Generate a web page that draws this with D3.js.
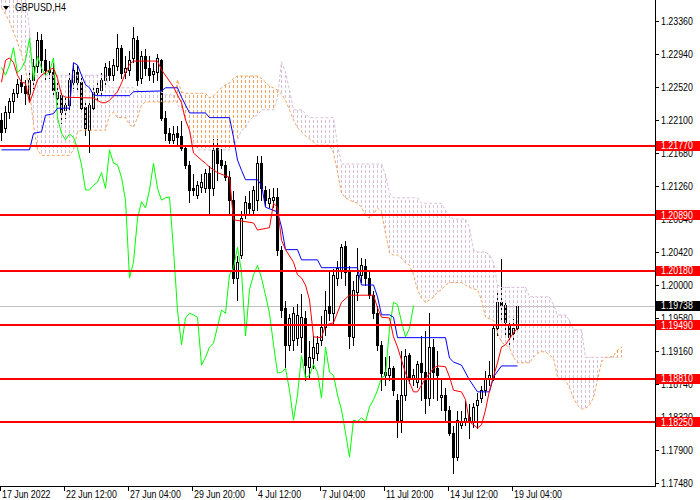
<!DOCTYPE html>
<html>
<head>
<meta charset="utf-8">
<script src="https://cdn.jsdelivr.net/npm/d3@7"></script>
<style>
  body { margin: 0; background: #fff; }
  text { font-family: "Liberation Sans", Arial, sans-serif; font-size: 10px; }
</style>
</head>
<body>
<script>
// GBPUSD H4 with Ichimoku
var title = 'GBPUSD,H4';
var dateLabels = ['17 Jun 2022', '22 Jun 12:00', '27 Jun 04:00', '29 Jun 20:00', '4 Jul 12:00',
                  '7 Jul 04:00', '11 Jul 20:00', '14 Jul 12:00', '19 Jul 04:00'];
var dateBars = [0, 16, 32, 48, 64, 80, 96, 112, 128];
var priceTicks = [1.2336, 1.2294, 1.2252, 1.2210, 1.2168, 1.2126, 1.2084, 1.2042, 1.2000,
                  1.1958, 1.1916, 1.1874, 1.1832, 1.1790, 1.1748];
var levels = [1.2177, 1.2089, 1.2018, 1.1949, 1.1881, 1.1825];
var lastPrice = 1.19738;

var opens = [
  1.2210,1.2200,1.2220,1.2234,1.2244,1.2258,1.2253,1.2243,1.2261,1.2279,
  1.2312,1.2286,1.2274,1.2271,1.2238,1.2242,1.2223,1.2229,1.2258,1.2271,
  1.2258,1.2227,1.2197,1.2225,1.2246,1.2248,1.2261,1.2276,1.2267,1.2279,
  1.2302,1.2271,1.2274,1.2289,1.2312,1.2263,1.2291,1.2276,1.2269,1.2271,
  1.2286,1.2213,1.2193,1.2185,1.2193,1.2190,1.2174,1.2153,1.2123,1.2115,
  1.2125,1.2123,1.2143,1.2123,1.2174,1.2159,1.2153,1.2137,1.2108,1.2009,
  1.2038,1.2089,1.2104,1.2095,1.2108,1.2155,1.2121,1.2104,1.2108,1.2112,
  1.2045,1.1971,1.1924,1.1930,1.1933,1.1934,1.1958,1.1896,1.1907,1.1913,
  1.1930,1.1947,1.1973,1.1964,1.2009,1.2019,1.2050,1.2017,1.1934,1.1991,
  1.2013,1.2024,1.2009,1.1987,1.1964,1.1924,1.1885,1.1885,1.1894,1.1854,
  1.1828,1.1860,1.1911,1.1882,1.1877,1.1901,1.1889,1.1856,1.1921,1.1894,
  1.1857,1.1860,1.1841,1.1812,1.1781,1.1822,1.1826,1.1832,1.1826,1.1847,
  1.1856,1.1866,1.1882,1.1882,1.1945,1.1978,1.1975,1.1949,1.1939,1.1945
];
var highs = [
  1.2220,1.2229,1.2239,1.2251,1.2263,1.2269,1.2262,1.2274,1.2289,1.2323,
  1.2321,1.2302,1.2286,1.2284,1.2261,1.2248,1.2242,1.2271,1.2284,1.2280,
  1.2266,1.2235,1.2235,1.2253,1.2258,1.2271,1.2284,1.2286,1.2289,1.2321,
  1.2307,1.2293,1.2299,1.2330,1.2318,1.2299,1.2302,1.2293,1.2284,1.2295,
  1.2289,1.2223,1.2201,1.2204,1.2204,1.2210,1.2178,1.2159,1.2143,1.2134,
  1.2143,1.2149,1.2153,1.2187,1.2187,1.2174,1.2159,1.2146,1.2121,1.2038,
  1.2095,1.2115,1.2121,1.2127,1.2165,1.2165,1.2127,1.2123,1.2125,1.2125,
  1.2051,1.1981,1.1964,1.1973,1.1977,1.1990,1.1968,1.1930,1.1936,1.1936,
  1.1962,1.1994,1.2019,1.2022,1.2032,1.2053,1.2057,1.2025,1.2006,1.2048,
  1.2036,1.2034,1.2019,1.1994,1.1975,1.1930,1.1910,1.1911,1.1898,1.1863,
  1.1917,1.1920,1.1915,1.1894,1.1905,1.1936,1.1943,1.1966,1.1933,1.1917,
  1.1883,1.1870,1.1847,1.1822,1.1841,1.1841,1.1854,1.1850,1.1851,1.1864,
  1.1873,1.1892,1.1905,1.1952,1.1991,1.2034,1.1981,1.1953,1.1958,1.1975
];
var lows = [
  1.2185,1.2195,1.2213,1.2220,1.2239,1.2246,1.2230,1.2235,1.2251,1.2271,
  1.2271,1.2261,1.2263,1.2242,1.2229,1.2206,1.2213,1.2223,1.2251,1.2248,
  1.2220,1.2191,1.2169,1.2220,1.2235,1.2242,1.2255,1.2261,1.2261,1.2274,
  1.2263,1.2263,1.2267,1.2284,1.2255,1.2257,1.2267,1.2261,1.2258,1.2261,
  1.2210,1.2185,1.2181,1.2181,1.2178,1.2172,1.2149,1.2106,1.2115,1.2111,
  1.2118,1.2118,1.2092,1.2115,1.2134,1.2149,1.2134,1.2092,1.2003,1.1981,
  1.2034,1.2085,1.2089,1.2089,1.2095,1.2108,1.2102,1.2099,1.2099,1.2038,
  1.1959,1.1896,1.1917,1.1917,1.1924,1.1915,1.1879,1.1882,1.1894,1.1905,
  1.1924,1.1936,1.1955,1.1949,1.2000,1.2009,1.2000,1.1920,1.1924,1.1981,
  1.2004,1.2000,1.1983,1.1958,1.1917,1.1866,1.1873,1.1879,1.1860,1.1807,
  1.1813,1.1854,1.1875,1.1873,1.1870,1.1854,1.1837,1.1847,1.1856,1.1854,
  1.1841,1.1826,1.1809,1.1761,1.1777,1.1818,1.1822,1.1805,1.1819,1.1818,
  1.1851,1.1860,1.1873,1.1879,1.1936,1.1955,1.1936,1.1921,1.1930,1.1943
];
var closes = [
  1.2195,1.2220,1.2234,1.2244,1.2256,1.2253,1.2244,1.2261,1.2279,1.2312,
  1.2286,1.2274,1.2271,1.2248,1.2246,1.2220,1.2229,1.2261,1.2274,1.2258,
  1.2225,1.2200,1.2229,1.2246,1.2251,1.2261,1.2277,1.2267,1.2280,1.2302,
  1.2270,1.2276,1.2286,1.2314,1.2261,1.2291,1.2276,1.2267,1.2272,1.2289,
  1.2213,1.2193,1.2185,1.2192,1.2188,1.2174,1.2153,1.2121,1.2121,1.2127,
  1.2131,1.2143,1.2123,1.2172,1.2155,1.2153,1.2137,1.2108,1.2009,1.2029,
  1.2085,1.2106,1.2098,1.2121,1.2155,1.2123,1.2108,1.2111,1.2112,1.2045,
  1.1968,1.1924,1.1958,1.1964,1.1962,1.1959,1.1898,1.1908,1.1921,1.1926,
  1.1947,1.1968,1.1964,1.2013,1.2022,1.2048,1.2017,1.1935,1.1994,1.2013,
  1.2025,1.2009,1.1987,1.1964,1.1924,1.1888,1.1889,1.1894,1.1866,1.1828,
  1.1860,1.1910,1.1882,1.1885,1.1899,1.1889,1.1856,1.1921,1.1889,1.1885,
  1.1860,1.1841,1.1812,1.1781,1.1828,1.1826,1.1831,1.1826,1.1845,1.1854,
  1.1866,1.1882,1.1885,1.1945,1.1978,1.1975,1.1953,1.1934,1.1945,1.19738
];

// senkou spans, already shifted 26 bars forward (index = bar on screen)
var spanA = [
  1.2353,1.2345,1.2335,1.2322,1.2309,1.2293,1.2274,1.2248,1.2204,1.2172,
  1.2165,1.2165,1.2165,1.2165,1.2165,1.2165,1.2165,1.2165,1.2172,1.2195,
  1.2197,1.2197,1.2197,1.2197,1.2197,1.2197,1.2197,1.2216,1.2220,1.2213,
  1.2213,1.2213,1.2204,1.2201,1.2213,1.2229,1.2233,1.2233,1.2233,1.2233,
  1.2233,1.2233,1.2233,1.2233,1.2261,1.2246,1.2244,1.2244,1.2244,1.2244,
  1.2244,1.2244,1.2238,1.2241,1.2246,1.2251,1.2255,1.2257,1.2263,1.2266,
  1.2266,1.2266,1.2266,1.2266,1.2266,1.2263,1.2258,1.2253,1.2251,1.2248,
  1.2243,1.2235,1.2223,1.2210,1.2200,1.2195,1.2190,1.2186,1.2182,1.2178,
  1.2178,1.2178,1.2178,1.2168,1.2144,1.2117,1.2111,1.2108,1.2106,1.2104,
  1.2099,1.2089,1.2085,1.2090,1.2098,1.2093,1.2066,1.2041,1.2038,1.2038,
  1.2034,1.2028,1.2025,1.2013,1.1994,1.1983,1.1978,1.1981,1.1985,1.1991,
  1.1994,1.2000,1.2003,1.2003,1.2003,1.2003,1.2000,1.1997,1.1995,1.1994,
  1.1981,1.1959,1.1957,1.1955,1.1939,1.1927,1.1924,1.1920,1.1908,1.1901,
  1.1901,1.1901,1.1901,1.1908,1.1913,1.1915,1.1915,1.1911,1.1907,1.1883,
  1.1880,1.1879,1.1869,1.1856,1.1847,1.1842,1.1843,1.1847,1.1857,1.1879,
  1.1902,1.1908,1.1908,1.1910,1.1917,1.1921
];
var spanB = [
  1.2367,1.2367,1.2367,1.2367,1.2367,1.2367,1.2367,1.2325,1.2267,1.2267,
  1.2267,1.2267,1.2267,1.2267,1.2267,1.2267,1.2267,1.2267,1.2267,1.2267,
  1.2267,1.2267,1.2267,1.2267,1.2267,1.2267,1.2267,1.2251,1.2251,1.2251,
  1.2251,1.2251,1.2251,1.2251,1.2248,1.2246,1.2246,1.2246,1.2246,1.2246,
  1.2246,1.2242,1.2242,1.2242,1.2229,1.2223,1.2213,1.2197,1.2181,1.2172,
  1.2172,1.2172,1.2172,1.2172,1.2172,1.2172,1.2172,1.2172,1.2178,1.2185,
  1.2197,1.2200,1.2210,1.2214,1.2216,1.2223,1.2223,1.2223,1.2223,1.2239,
  1.2284,1.2271,1.2248,1.2223,1.2223,1.2223,1.2218,1.2213,1.2213,1.2213,
  1.2213,1.2213,1.2213,1.2213,1.2178,1.2154,1.2154,1.2154,1.2154,1.2154,
  1.2154,1.2154,1.2154,1.2154,1.2154,1.2154,1.2140,1.2117,1.2111,1.2111,
  1.2111,1.2111,1.2111,1.2111,1.2111,1.2104,1.2104,1.2104,1.2104,1.2104,
  1.2104,1.2095,1.2087,1.2084,1.2084,1.2084,1.2084,1.2073,1.2045,1.2042,
  1.2042,1.2042,1.2038,1.2029,1.2000,1.1997,1.1997,1.1997,1.1997,1.1997,
  1.1997,1.1997,1.1985,1.1985,1.1985,1.1985,1.1985,1.1985,1.1975,1.1962,
  1.1962,1.1962,1.1955,1.1943,1.1943,1.1943,1.1908,1.1908,1.1908,1.1908,
  1.1908,1.1908,1.1908,1.1908,1.1908,1.1908
];

// tenkan / kijun as [bar, price] turning points
var tenkan = [
  [0,1.2258],[1,1.2286],[2,1.2289],[3,1.2283],[4,1.2267],[5,1.2258],[6,1.2257],[7,1.2232],
  [8,1.2246],[9,1.2261],[10,1.2267],[12,1.2274],[13,1.2276],[14,1.2263],[15,1.2242],[16,1.2239],
  [23,1.2238],[25,1.2232],[26,1.2232],[27,1.2235],[29,1.2246],[30,1.2257],[31,1.2270],[32,1.2281],
  [33,1.2285],[39,1.2285],[40,1.2274],[43,1.2252],[45,1.2232],[46,1.2210],[47,1.2197],[48,1.2168],
  [50,1.2159],[51,1.2155],[52,1.2150],[54,1.2143],[57,1.2137],[58,1.2083],[63,1.2079],[64,1.2070],
  [67,1.2073],[68,1.2104],[69,1.2099],[70,1.2057],[71,1.2045],[73,1.2029],[74,1.2013],[75,1.2009],
  [76,1.2000],[77,1.1981],[78,1.1934],[80,1.1933],[81,1.1949],[83,1.1952],[85,1.1978],[87,1.1987],
  [93,1.1987],[94,1.1971],[95,1.1959],[97,1.1958],[98,1.1934],[99,1.1921],[101,1.1888],[103,1.1864],
  [104,1.1864],[106,1.1881],[108,1.1894],[109,1.1897],[111,1.1896],[112,1.1883],[113,1.1866],[115,1.1864],
  [116,1.1854],[117,1.1826],[119,1.1818],[120,1.1822],[121,1.1841],[122,1.1866],[124,1.1901],[125,1.1921],
  [126,1.1924],[128,1.1939],[129,1.1945]
];
var kijun = [
  [0,1.2172],[7,1.2172],[8,1.2193],[10,1.2195],[11,1.2216],[13,1.2218],[14,1.2225],[17,1.2225],
  [18,1.2283],[19,1.2280],[20,1.2267],[21,1.2255],[22,1.2251],[23,1.2242],[24,1.2241],[32,1.2241],
  [33,1.2246],[40,1.2247],[41,1.2251],[44,1.2251],[45,1.2239],[47,1.2219],[51,1.2219],[52,1.2213],
  [57,1.2213],[58,1.2188],[59,1.2159],[60,1.2146],[61,1.2134],[64,1.2134],[65,1.2127],[66,1.2099],
  [69,1.2093],[70,1.2074],[71,1.2045],[74,1.2045],[75,1.2032],[79,1.2032],[80,1.2022],[89,1.2022],
  [90,1.2000],[93,1.2000],[94,1.1985],[95,1.1962],[97,1.1962],[98,1.1959],[99,1.1933],[111,1.1933],
  [112,1.1907],[113,1.1902],[115,1.1898],[117,1.1879],[119,1.1864],[122,1.1864],[123,1.1883],[125,1.1897],
  [129,1.1897]
];
var chikouShift = 26;

var width = 700, height = 500;
var plotRight = 655, plotBottom = 486;
var squeeze = 0.88;   // narrow the glyphs to the terminal's small font

var svg = d3.select('body')
            .append('svg')
            .attr('width', width)
            .attr('height', height)
            .style('background-color', '#fff');

var x = d3.scaleLinear().domain([0, 155]).range([1.5, 621.5]);
var y = d3.scaleLinear().domain([1.1748, 1.2336]).range([483, 21]);
var fmt = d3.format('.5f');
function py(v) { return Math.round(y(v)) + 0.5; }
function narrow(sel) {
  sel.each(function() {
    var l = this.getComputedTextLength();
    d3.select(this).attr('textLength', l * squeeze).attr('lengthAdjust', 'spacingAndGlyphs');
  });
}

var sandy = '#f4a460', thistle = '#d8bfd8';
svg.append('defs').append('clipPath').attr('id', 'plot')
   .append('rect').attr('x', 0).attr('y', 0).attr('width', plotRight).attr('height', plotBottom);

var plot = svg.append('g').attr('clip-path', 'url(#plot)');

// bid line
plot.append('line')
    .attr('x1', 0).attr('x2', plotRight)
    .attr('y1', py(lastPrice)).attr('y2', py(lastPrice))
    .attr('stroke', '#c0c0c0');

// candles
var bars = d3.range(closes.length);
var candle = plot.append('g').attr('shape-rendering', 'crispEdges');
candle.selectAll('line.wick')
      .data(bars)
      .enter()
        .append('line')
        .attr('x1', function(i) { return x(i); })
        .attr('x2', function(i) { return x(i); })
        .attr('y1', function(i) { return py(highs[i]); })
        .attr('y2', function(i) { return py(lows[i]) + 0.5; })
        .attr('stroke', '#000');
candle.selectAll('rect')
      .data(bars)
      .enter()
        .append('rect')
        .attr('x', function(i) { return x(i) - 1; })
        .attr('y', function(i) { return py(Math.max(opens[i], closes[i])); })
        .attr('width', 2)
        .attr('height', function(i) {
          return Math.max(py(Math.min(opens[i], closes[i])) - py(Math.max(opens[i], closes[i])), 0.01);
        })
        .attr('fill', function(i) { return closes[i] >= opens[i] ? '#fff' : '#000'; })
        .attr('stroke', '#000');

// kumo hatching: dotted column per bar, 3px on / 2px off, aligned on a global grid
var dashes = [];
d3.range(spanA.length).forEach(function(i) {
  var top = Math.round(y(Math.max(spanA[i], spanB[i])));
  var bot = Math.round(y(Math.min(spanA[i], spanB[i])));
  var col = spanA[i] > spanB[i] ? sandy : thistle;
  for (var k = top - (((top % 5) + 5) % 5); k < bot; k += 5) {
    var s = Math.max(k, top), e = Math.min(k + 3, bot);
    if (e > s) dashes.push({i: i, y: s, h: e - s, c: col});
  }
});
plot.append('g').attr('shape-rendering', 'crispEdges')
    .selectAll('rect')
    .data(dashes)
    .enter()
      .append('rect')
      .attr('x', function(d) { return x(d.i) - 0.5; })
      .attr('y', function(d) { return d.y; })
      .attr('width', 1)
      .attr('height', function(d) { return d.h; })
      .attr('fill', function(d) { return d.c; });

var spanLine = d3.line().x(function(d, i) { return x(i); }).y(function(d) { return y(d); });
plot.append('path').attr('d', spanLine(spanB)).attr('fill', 'none')
    .attr('stroke', thistle).attr('stroke-dasharray', '3,2');
plot.append('path').attr('d', spanLine(spanA)).attr('fill', 'none')
    .attr('stroke', sandy).attr('stroke-dasharray', '3,2');

var ptLine = d3.line().x(function(d) { return x(d[0]); }).y(function(d) { return y(d[1]); });
var chikou = closes.slice(chikouShift).map(function(c, k) { return [k, c]; });
plot.append('path').attr('d', ptLine(chikou)).attr('fill', 'none').attr('stroke', '#00ff00');
plot.append('path').attr('d', ptLine(kijun)).attr('fill', 'none').attr('stroke', '#0000ff');
plot.append('path').attr('d', ptLine(tenkan)).attr('fill', 'none').attr('stroke', '#ff0000');

// support / resistance levels
plot.selectAll('line.level')
    .data(levels)
    .enter()
      .append('line')
      .attr('x1', 0).attr('x2', plotRight)
      .attr('y1', function(d) { return Math.round(y(d)); })
      .attr('y2', function(d) { return Math.round(y(d)); })
      .attr('stroke', '#ff0000')
      .attr('stroke-width', 2);

// frame
svg.append('line').attr('x1', plotRight + 0.5).attr('x2', plotRight + 0.5)
   .attr('y1', 0).attr('y2', plotBottom + 1).attr('stroke', '#000');
svg.append('line').attr('x1', 0).attr('x2', plotRight + 1)
   .attr('y1', plotBottom + 0.5).attr('y2', plotBottom + 0.5).attr('stroke', '#000');

// price axis
var pAxis = svg.append('g');
pAxis.selectAll('line')
     .data(priceTicks)
     .enter()
       .append('line')
       .attr('x1', plotRight).attr('x2', plotRight + 4)
       .attr('y1', py).attr('y2', py)
       .attr('stroke', '#000');
pAxis.selectAll('text')
     .data(priceTicks)
     .enter()
       .append('text')
       .attr('x', 661)
       .attr('y', function(d) { return y(d) + 3.5; })
       .text(fmt)
       .call(narrow);

// time axis
var tAxis = svg.append('g');
tAxis.selectAll('line')
     .data(dateBars)
     .enter()
       .append('line')
       .attr('x1', function(b) { return x(b) - 1; })
       .attr('x2', function(b) { return x(b) - 1; })
       .attr('y1', plotBottom).attr('y2', plotBottom + 5)
       .attr('stroke', '#000');
tAxis.selectAll('text')
     .data(dateBars)
     .enter()
       .append('text')
       .attr('x', function(b) { return x(b) + 0.5; })
       .attr('y', 498)
       .text(function(b, k) { return dateLabels[k]; })
       .call(narrow);

// level labels
var tags = svg.selectAll('g.tag')
              .data(levels.map(function(d) { return {v: d, bg: '#ff0000'}; })
                          .concat([{v: lastPrice, bg: '#000'}]))
              .enter()
                .append('g');
tags.append('rect')
    .attr('x', plotRight + 1)
    .attr('y', function(d) { return Math.round(y(d.v)) - 5; })
    .attr('width', width - plotRight)
    .attr('height', 10)
    .attr('fill', function(d) { return d.bg; });
tags.append('text')
    .attr('x', 661)
    .attr('y', function(d) { return y(d.v) + 3.5; })
    .attr('fill', '#fff')
    .text(function(d) { return fmt(d.v); })
    .call(narrow);

// title
svg.append('path').attr('d', 'M3,6 L9,6 L6,10 Z').attr('fill', '#000');
svg.append('text').attr('x', 15).attr('y', 11).text(title).call(narrow);
</script>
</body>
</html>
